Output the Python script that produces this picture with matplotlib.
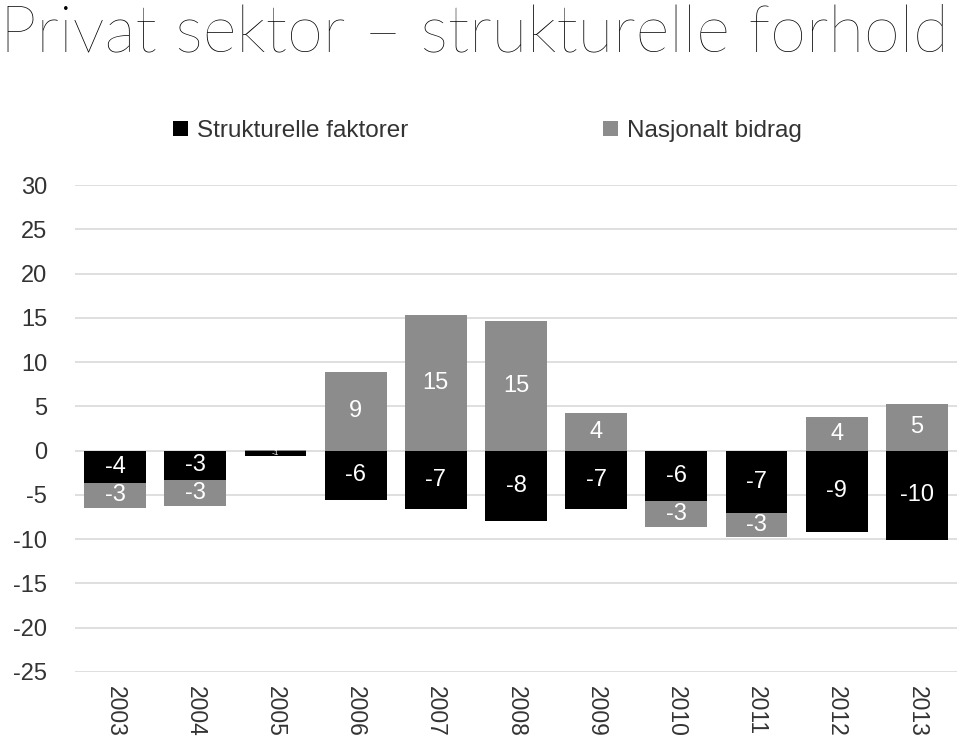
import matplotlib.pyplot as plt
import numpy as np

years = ["2003", "2004", "2005", "2006", "2007", "2008", "2009", "2010", "2011", "2012", "2013"]
strukturelle = [-3.6, -3.3, -0.6, -5.6, -6.6, -8.0, -6.6, -5.7, -7.0, -9.2, -10.1]
nasjonalt = [-2.9, -2.9, 0.1, 8.9, 15.3, 14.6, 4.2, -2.9, -2.8, 3.8, 5.3]

black = "#000000"
gray = "#8c8c8c"

plt.rcParams["font.family"] = ["Liberation Sans", "DejaVu Sans"]
plt.rcParams["axes.unicode_minus"] = False

fig = plt.figure(figsize=(9.6, 7.42), dpi=100)
ax = fig.add_axes([75 / 960, 1 - 672 / 742, 882 / 960, (672 - 185) / 742])

x = np.arange(len(years))
s = np.array(strukturelle)
n = np.array(nasjonalt)

# Excel-style stacking: negatives stack downward, positives upward
s_base = np.zeros(len(x))
n_base = np.where(n < 0, np.minimum(s, 0), 0)

w = 0.77
b1 = ax.bar(x, s, w, bottom=s_base, color=black, label="Strukturelle faktorer", zorder=3)
b2 = ax.bar(x, n, w, bottom=n_base, color=gray, label="Nasjonalt bidrag", zorder=3)

for bars, vals, base in [(b1, s, s_base), (b2, n, n_base)]:
    for rect, v, b in zip(bars, vals, base):
        if abs(v) < 0.3:
            continue
        label = f"{round(v):d}"
        fs = 17 if abs(v) > 1 else 6
        ax.text(rect.get_x() + rect.get_width() / 2, b + v / 2, label,
                ha="center", va="center", color="white", fontsize=fs, zorder=4)

ax.set_xlim(-0.5, len(x) - 0.5)
ax.set_ylim(-25, 30)
ax.set_yticks(np.arange(-25, 31, 5))
ax.set_xticks(x)
ax.set_xticklabels(years, rotation=270, fontsize=16.5, color="#333333")
ax.tick_params(axis="y", labelsize=17, labelcolor="#333333", length=0, pad=20)
ax.tick_params(axis="x", length=0, pad=10)
ax.grid(axis="y", color="#d9d9d9", linewidth=1.2, zorder=0)
for sp in ax.spines.values():
    sp.set_visible(False)

ax.legend(loc="lower left", bbox_to_anchor=(0.1, 1.068), ncol=2, frameon=False,
          fontsize=17.5, handlelength=0.6, handleheight=0.6, handletextpad=0.4,
          columnspacing=8.0, labelcolor="#333333", borderaxespad=0)

fig.text(0.0, 0.995, "Privat sektor \u2013 strukturelle forhold", fontsize=47,
         family=["Lato", "DejaVu Sans"], fontweight="light", va="top", ha="left",
         color="#000000")

fig.savefig("out.png", dpi=100)
